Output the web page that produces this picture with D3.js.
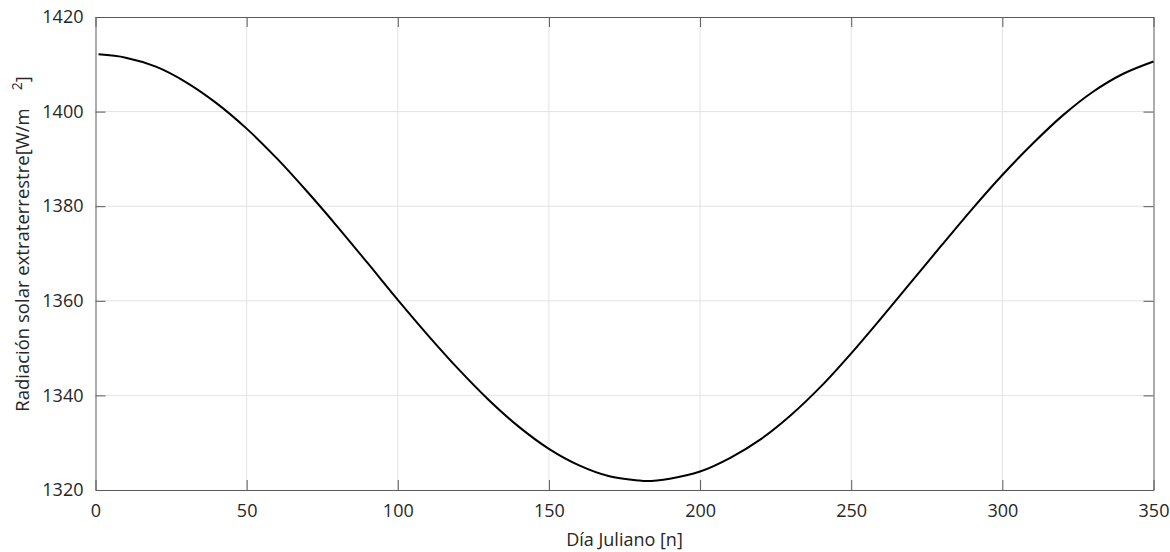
<!DOCTYPE html>
<html>
<head>
<meta charset="utf-8">
<script src="https://cdn.jsdelivr.net/npm/d3@7"></script>
<style>
  body { margin: 0; background: #fff; }
  text { font-family: "Open Sans", sans-serif; fill: #262626; }
</style>
</head>
<body>
<script>
// day of year and radiation
const days = [1, 10, 20, 30, 40, 50, 60, 70, 80, 90, 100, 110, 120, 130, 140, 150, 160, 170, 180, 182,
  190, 200, 210, 220, 230, 240, 250, 260, 270, 280, 290, 300, 310, 320, 330, 340, 350];
const radiation = [1412.1, 1411.4, 1409.5, 1406.2, 1401.8, 1396.4, 1390.1, 1383.1, 1375.7, 1368.0,
  1360.2, 1352.7, 1345.6, 1339.1, 1333.4, 1328.7, 1325.2, 1322.9, 1322.0, 1321.9,
  1322.4, 1323.9, 1326.8, 1330.7, 1335.8, 1341.9, 1348.9, 1356.4, 1364.1, 1371.8,
  1379.4, 1386.6, 1393.2, 1399.2, 1404.2, 1408.0, 1410.6];
const xTicks = [0, 50, 100, 150, 200, 250, 300, 350];
const yTicks = [1320, 1340, 1360, 1380, 1400, 1420];

const width = 1170, height = 552;
const plotLeft = 95.5, plotRight = 1153.5, plotTop = 17, plotBottom = 490;

const svg = d3.select("body").append("svg")
  .attr("width", width).attr("height", height);

const x = d3.scaleLinear().domain([0, 350]).range([plotLeft, plotRight]);
const y = d3.scaleLinear().domain([1320, 1420]).range([plotBottom, plotTop]);

//grid
svg.append("g").selectAll("line").data(xTicks.slice(1, -1)).enter().append("line")
  .attr("x1", d => x(d)).attr("x2", d => x(d))
  .attr("y1", plotTop).attr("y2", plotBottom)
  .attr("stroke", "#e3e3e3").attr("stroke-width", 1);
svg.append("g").selectAll("line").data(yTicks.slice(1, -1)).enter().append("line")
  .attr("y1", d => y(d)).attr("y2", d => y(d))
  .attr("x1", plotLeft).attr("x2", plotRight)
  .attr("stroke", "#e3e3e3").attr("stroke-width", 1);

//axes with inside ticks, box on
const tick = 10;
const fmt = d3.format("d");
const styleAxis = g => {
  g.select(".domain").attr("stroke", "#5a5a5a");
  g.selectAll(".tick line").attr("stroke", "#5a5a5a");
  g.selectAll("text").style("font-size", "18px").attr("fill", "#262626");
};
svg.append("g").attr("transform", `translate(0,${plotBottom})`)
  .call(d3.axisBottom(x).tickValues(xTicks).tickFormat(fmt).tickSizeInner(-tick).tickSizeOuter(0).tickPadding(14))
  .call(styleAxis);
svg.append("g").attr("transform", `translate(0,${plotTop})`)
  .call(d3.axisTop(x).tickValues(xTicks).tickSizeInner(-tick).tickSizeOuter(0).tickFormat(""))
  .call(styleAxis);
svg.append("g").attr("transform", `translate(${plotLeft},0)`)
  .call(d3.axisLeft(y).tickValues(yTicks).tickFormat(fmt).tickSizeInner(-tick).tickSizeOuter(0).tickPadding(12))
  .call(styleAxis);
svg.append("g").attr("transform", `translate(${plotRight},0)`)
  .call(d3.axisRight(y).tickValues(yTicks).tickSizeInner(-tick).tickSizeOuter(0).tickFormat(""))
  .call(styleAxis);

//curve
const line = d3.line()
  .x((d, i) => x(days[i]))
  .y(d => y(d))
  .curve(d3.curveCatmullRom);
svg.append("path")
  .attr("d", line(radiation))
  .attr("fill", "none")
  .attr("stroke", "#000")
  .attr("stroke-width", 2);

//labels
svg.append("text")
  .attr("x", (plotLeft + plotRight) / 2).attr("y", 546)
  .attr("text-anchor", "middle")
  .style("font-size", "18px")
  .text("Día Juliano [n]");

const yl = svg.append("text")
  .attr("transform", "translate(29,244) rotate(-90)")
  .attr("text-anchor", "middle")
  .style("font-size", "18.5px");
yl.append("tspan").text("Radiación solar extraterrestre[W/m");
yl.append("tspan").attr("dx", 18).attr("dy", -7).style("font-size", "14px").text("2");
yl.append("tspan").attr("dy", 7).text("]");
</script>
</body>
</html>
